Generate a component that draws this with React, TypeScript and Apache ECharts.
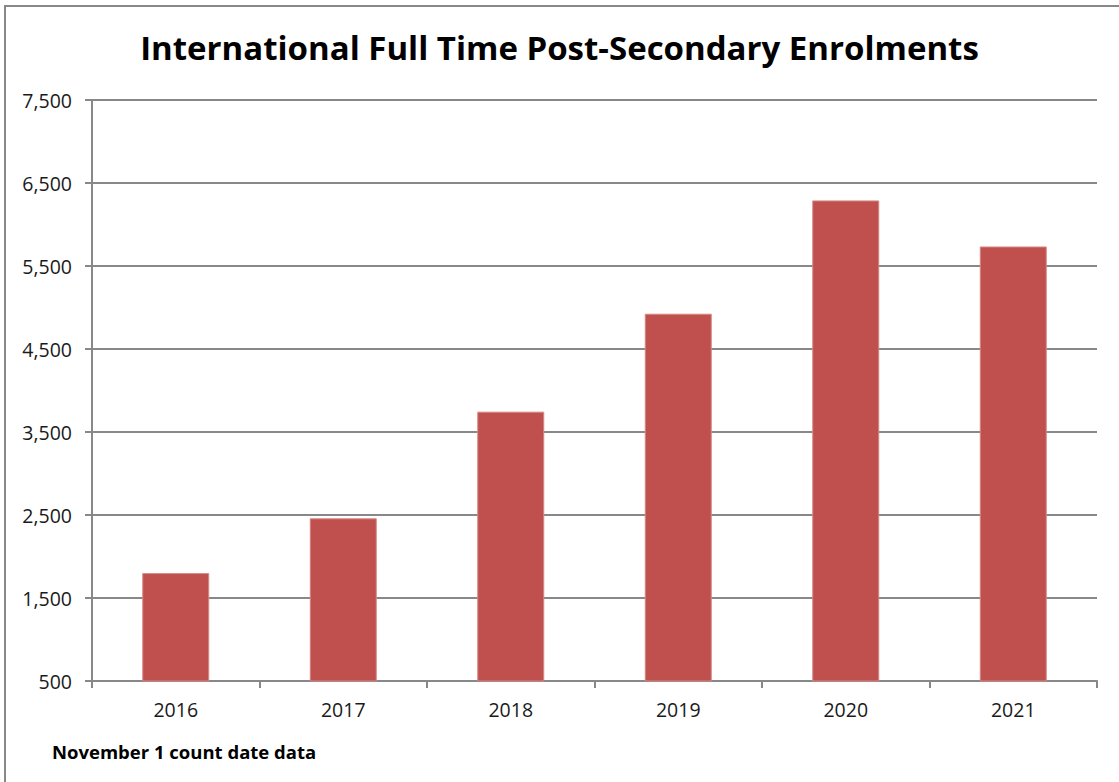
import React, { useEffect, useRef } from "react";
import * as echarts from "echarts";

const categories = ["2016", "2017", "2018", "2019", "2020", "2021"];
const enrolments = [1800, 2460, 3745, 4925, 6290, 5735];
const titleText = "International Full Time Post-Secondary Enrolments";
const footnote = "November 1 count date data";

export default function App() {
  const ref = useRef<HTMLDivElement>(null);
  useEffect(() => {
    document.body.style.margin = "0";
    const chart = echarts.init(ref.current!, null, { renderer: "svg" });
    const font = "'Open Sans', 'Noto Sans', sans-serif";
    chart.setOption({
      animation: false,
      backgroundColor: "#ffffff",
      title: {
        text: titleText,
        left: "center",
        top: 26,
        textStyle: { fontFamily: font, fontWeight: "bold", fontSize: 33, color: "#000" },
      },
      grid: { left: 92, right: 22, top: 100, bottom: 101, containLabel: false },
      xAxis: {
        type: "category",
        data: categories,
        axisLine: { lineStyle: { color: "#888", width: 2 } },
        axisTick: { show: true, length: 7, lineStyle: { color: "#888", width: 2 } },
        axisLabel: { fontFamily: font, fontSize: 19.5, color: "#1a1a1a", margin: 18 },
      },
      yAxis: {
        type: "value",
        min: 500,
        max: 7500,
        interval: 1000,
        axisLine: { show: true, lineStyle: { color: "#888", width: 2 } },
        axisTick: { show: true, length: 7, lineStyle: { color: "#888", width: 2 } },
        splitLine: { show: true, lineStyle: { color: "#888", width: 2 } },
        axisLabel: {
          fontFamily: font,
          fontSize: 19.5,
          color: "#1a1a1a",
          margin: 20,
          formatter: (v: number) => v.toLocaleString("en-US"),
        },
      },
      series: [
        {
          type: "bar",
          data: enrolments,
          barWidth: "40%",
          itemStyle: { color: "#C0504D", borderColor: "#D48885", borderWidth: 1 },
        },
      ],
      graphic: [
        {
          type: "rect",
          shape: { x: 5, y: 6, width: 1300, height: 1000 },
          style: { fill: "none", stroke: "#888", lineWidth: 2 },
          z: -1,
        },
        {
          type: "text",
          x: 52,
          y: 751,
          style: {
            text: footnote,
            fontFamily: font,
            fontWeight: "bold",
            fontSize: 18.5,
            fill: "#000",
            verticalAlign: "middle",
            align: "left",
          },
        },
      ],
    });
    return () => chart.dispose();
  }, []);
  return <div ref={ref} style={{ width: 1119, height: 782 }} />;
}
